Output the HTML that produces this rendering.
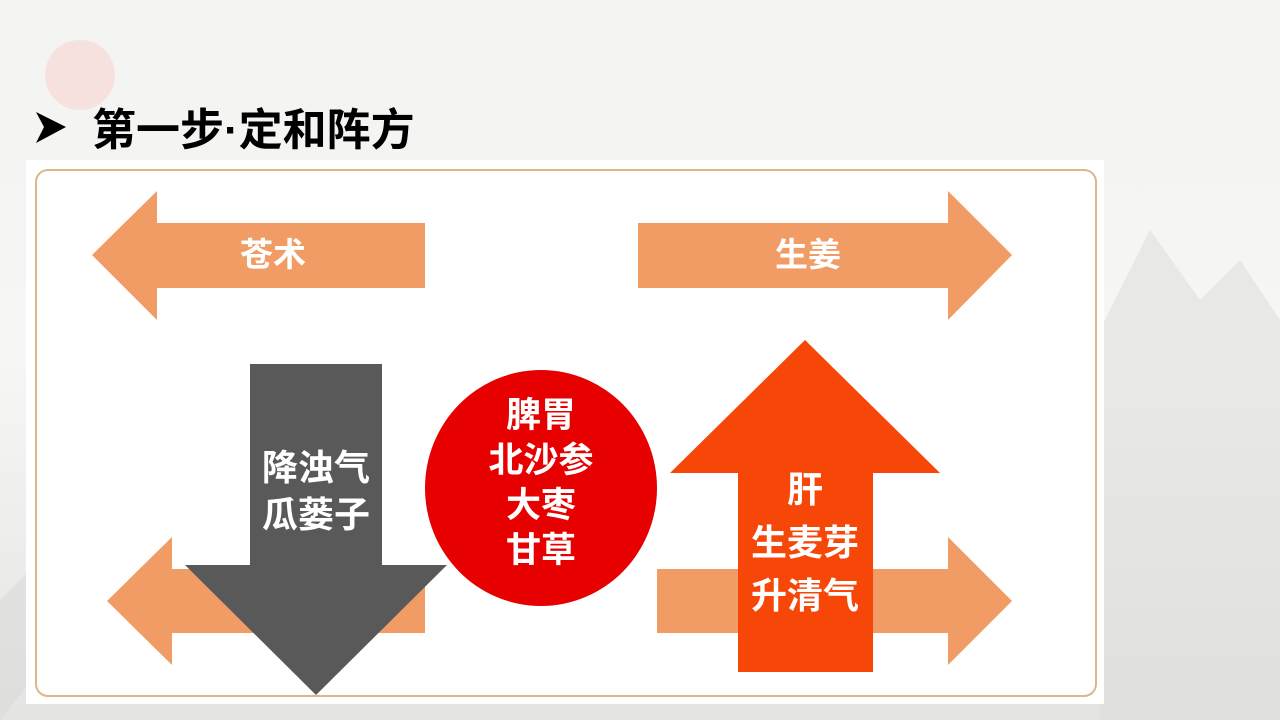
<!DOCTYPE html>
<html><head><meta charset="utf-8"><style>
html,body{margin:0;padding:0}
body{width:1280px;height:720px;position:relative;overflow:hidden;background:linear-gradient(180deg,#f3f3f1 0%,#f6f6f4 50%,#e4e4e2 100%);font-family:"Liberation Sans","Noto Sans CJK SC",sans-serif}
.t{position:absolute;color:#fff;font-weight:bold;text-align:center;white-space:nowrap}
</style></head><body>
<svg width="1280" height="720" style="position:absolute;left:0;top:0">
<circle cx="80" cy="75" r="35" fill="#f7dcd8" opacity="0.8"/>
<path d="M1100 330 L1150 230 L1200 300 L1240 260 L1280 320 L1280 720 L1100 720Z" fill="#dcdcda" opacity="0.5"/>
<path d="M0 600 L40 560 L80 620 L0 720Z" fill="#d8d8d6" opacity="0.5"/>
<rect x="26" y="160" width="1078" height="544" fill="#fff"/>
<rect x="36" y="170" width="1060" height="526" rx="12" fill="none" stroke="#d9b98a" stroke-width="2"/>
<polygon points="92,255 157,191 157,223 425,223 425,288 157,288 157,320" fill="#f09c64"/>
<polygon points="1012,255 948,191 948,223 638,223 638,288 948,288 948,320" fill="#f09c64"/>
<polygon points="107,601 172,537 172,569 425,569 425,633 172,633 172,665" fill="#f09c64"/>
<polygon points="1012,601 948,537 948,569 657,569 657,633 948,633 948,665" fill="#f09c64"/>
<polygon points="250,364 382,364 382,565 447,565 316,695 185,565 250,565" fill="#595959"/>
<ellipse cx="541" cy="488" rx="116" ry="118" fill="#e60000"/>
<polygon points="805,340 940,473 873,473 873,672 738,672 738,473 670,473" fill="#f64709"/>
<polygon points="36,112 66,127 36,143 44,127" fill="#000"/>
</svg>
<div style="position:absolute;left:92px;top:94px;font-size:44px;font-weight:bold;color:#000">第一步·定和阵方</div>
<div class="t" style="left:223px;top:228px;width:100px;font-size:33px">苍术</div>
<div class="t" style="left:758px;top:228px;width:100px;font-size:33px">生姜</div>
<div class="t" style="left:236px;top:444px;width:160px;font-size:36px;line-height:47px">降浊气<br>瓜蒌子</div>
<div class="t" style="left:456px;top:393px;width:170px;font-size:35px;line-height:45px">脾胃<br>北沙参<br>大枣<br>甘草</div>
<div class="t" style="left:725px;top:463px;width:160px;font-size:36px;line-height:53px">肝<br>生麦芽<br>升清气</div>
</body></html>
